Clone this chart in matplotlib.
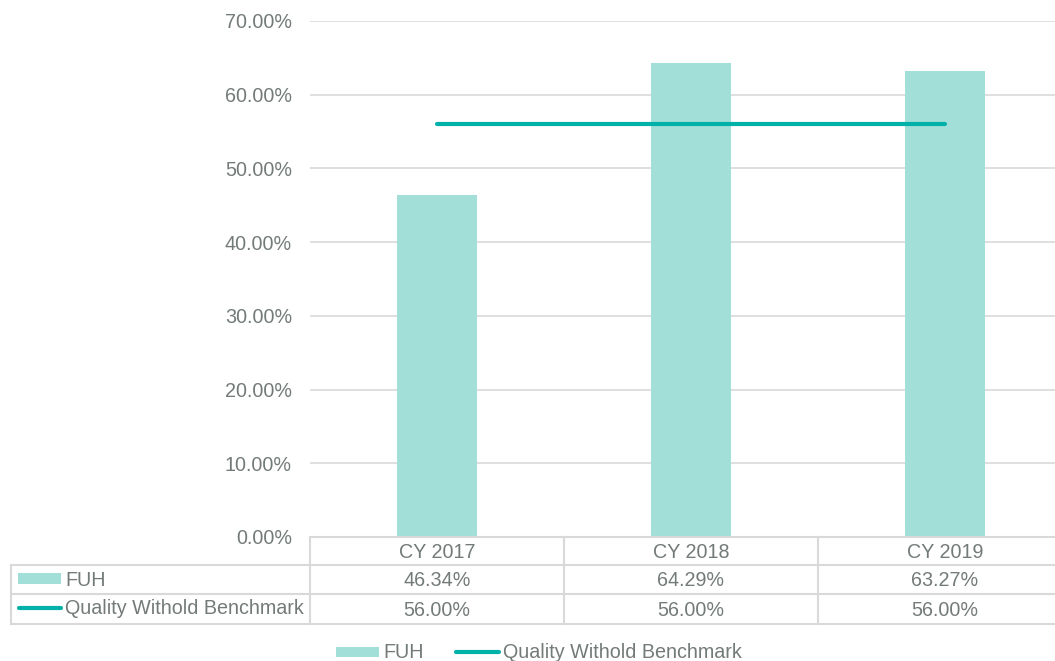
import matplotlib
matplotlib.use("Agg")
import matplotlib.pyplot as plt
from matplotlib.lines import Line2D
from matplotlib.patches import Rectangle

categories = ["CY 2017", "CY 2018", "CY 2019"]
fuh = [46.34, 64.29, 63.27]
benchmark = [56.00, 56.00, 56.00]
series_names = ["FUH", "Quality Withold Benchmark"]
yticks = [0, 10, 20, 30, 40, 50, 60, 70]

BAR_C = "#A2DFD9"
LINE_C = "#00B1A9"
TXT_C = "#737B79"
GRID_C = "#D9D9D9"

W, H = 1055, 661
plt.rcParams['font.family'] = ['Liberation Sans', 'DejaVu Sans']
fig = plt.figure(figsize=(W / 100, H / 100), dpi=100)

def fx(x):
    return x / W

def fy(y):
    return 1 - y / H

L, R, T, B = 310, 1072, 21, 537
ax = fig.add_axes([fx(L), fy(B), fx(R) - fx(L), fy(T) - fy(B)])
xs = list(range(len(categories)))
ax.bar(xs, fuh, width=0.315, color=BAR_C, zorder=2)
ax.plot(xs, benchmark, color=LINE_C, lw=3, solid_capstyle='round', zorder=3)
ax.set_xlim(-0.5, len(categories) - 0.5)
ax.set_ylim(0, 70)
ax.set_yticks(yticks)
fs = 14.2
ax.set_yticklabels([f"{v:.2f}%" for v in yticks], color=TXT_C, fontsize=fs)
ax.tick_params(axis='y', length=0, pad=13)
ax.set_xticks([])
ax.yaxis.grid(True, color=GRID_C, lw=1.2)
ax.set_axisbelow(True)
for s in ax.spines.values():
    s.set_visible(False)

# data table
col_edges = [L, 564, 818, R]
row_edges = [537, 565, 594, 624]
tbl_left = 11
lc = "#D9D9D9"
lw = 1.5
def hline(x0, x1, y):
    fig.add_artist(Line2D([fx(x0), fx(x1)], [fy(y), fy(y)], color=lc, lw=lw))
def vline(x, y0, y1):
    fig.add_artist(Line2D([fx(x), fx(x)], [fy(y0), fy(y1)], color=lc, lw=lw))

hline(L, R, row_edges[0])
for y in row_edges[1:]:
    hline(tbl_left, R, y)
for x in col_edges:
    vline(x, row_edges[0], row_edges[-1])
vline(tbl_left, row_edges[1], row_edges[-1])

for i, c in enumerate(categories):
    cx = (col_edges[i] + col_edges[i + 1]) / 2
    fig.text(fx(cx), fy((row_edges[0] + row_edges[1]) / 2 + 1), c, ha='center', va='center', color=TXT_C, fontsize=fs)
    fig.text(fx(cx), fy((row_edges[1] + row_edges[2]) / 2 + 1), f"{fuh[i]:.2f}%", ha='center', va='center', color=TXT_C, fontsize=fs)
    fig.text(fx(cx), fy((row_edges[2] + row_edges[3]) / 2 + 1), f"{benchmark[i]:.2f}%", ha='center', va='center', color=TXT_C, fontsize=fs)

# row keys
fig.add_artist(Rectangle((fx(18), fy(584)), fx(61) - fx(18), fy(573) - fy(584), color=BAR_C, lw=0))
fig.add_artist(Line2D([fx(19), fx(61)], [fy(608), fy(608)], color=LINE_C, lw=3, solid_capstyle='round'))
fig.text(fx(65), fy(580), series_names[0], ha='left', va='center', color=TXT_C, fontsize=fs)
fig.text(fx(65), fy(609), series_names[1], ha='left', va='center', color=TXT_C, fontsize=fs)

# bottom legend
ly = 652
fig.add_artist(Rectangle((fx(336), fy(657)), fx(379) - fx(336), fy(647) - fy(657), color=BAR_C, lw=0))
fig.text(fx(383), fy(ly), series_names[0], ha='left', va='center', color=TXT_C, fontsize=fs)
fig.add_artist(Line2D([fx(456), fx(499)], [fy(ly), fy(ly)], color=LINE_C, lw=3, solid_capstyle='round'))
fig.text(fx(503), fy(ly), series_names[1], ha='left', va='center', color=TXT_C, fontsize=fs)

fig.savefig("out.png", dpi=100)
